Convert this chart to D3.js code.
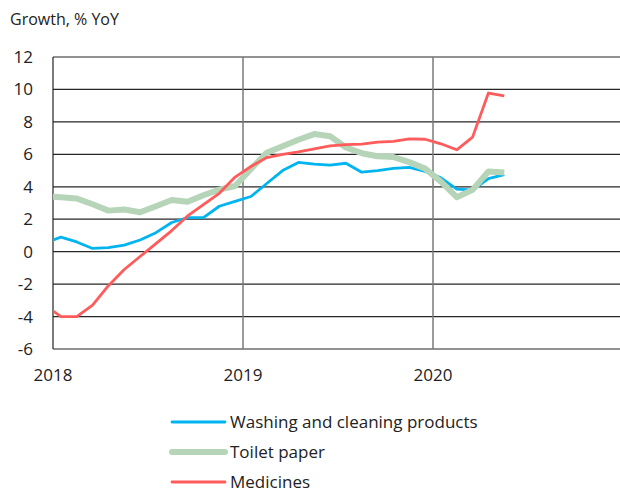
<!DOCTYPE html>
<html>
<head>
<meta charset="utf-8">
<script src="https://cdn.jsdelivr.net/npm/d3@7"></script>
<style>
  body { margin: 0; background: #fff; }
  text { font-family: "Open Sans", sans-serif; fill: #222; }
</style>
</head>
<body>
<div id="chart"></div>
<script>
// monthly data, Dec 2017 - May 2020
var months = ["2017-12",
  "2018-01","2018-02","2018-03","2018-04","2018-05","2018-06","2018-07","2018-08","2018-09","2018-10","2018-11","2018-12",
  "2019-01","2019-02","2019-03","2019-04","2019-05","2019-06","2019-07","2019-08","2019-09","2019-10","2019-11","2019-12",
  "2020-01","2020-02","2020-03","2020-04","2020-05"];

var washing = [0.55,
  0.9, 0.6, 0.2, 0.25, 0.4, 0.72, 1.17, 1.8, 2.1, 2.1, 2.8, 3.1,
  3.4, 4.2, 5.0, 5.5, 5.4, 5.33, 5.45, 4.9, 5.0, 5.13, 5.2, 4.95,
  4.55, 3.85, 3.8, 4.5, 4.75];

var toilet = [3.42,
  3.36, 3.28, 2.92, 2.53, 2.6, 2.43, 2.8, 3.19, 3.08, 3.48, 3.82, 4.05,
  5.1, 6.1, 6.5, 6.9, 7.25, 7.12, 6.42, 6.07, 5.88, 5.83, 5.52, 5.12,
  4.32, 3.36, 3.81, 4.94, 4.88];

var medicines = [-3.3,
  -4.0, -4.0, -3.3, -2.1, -1.1, -0.3, 0.5, 1.3, 2.2, 2.9, 3.6, 4.6,
  5.25, 5.8, 6.0, 6.15, 6.33, 6.52, 6.6, 6.63, 6.75, 6.8, 6.95, 6.93,
  6.65, 6.28, 7.06, 9.78, 9.61];

var yTicks = [-6, -4, -2, 0, 2, 4, 6, 8, 10, 12];
var yearTicks = [2018, 2019, 2020];

var series = [
  {name: "Washing and cleaning products", values: washing, color: "#00b4ef", width: 2.8},
  {name: "Toilet paper", values: toilet, color: "#b6d4b7", width: 6},
  {name: "Medicines", values: medicines, color: "#ff5b5b", width: 2.8}
];

var svgWidth = 620;
var svgHeight = 492;
var margin = {top: 57, right: 0, bottom: 143, left: 53};
var width = svgWidth - margin.left - margin.right;
var height = svgHeight - margin.top - margin.bottom;

var svg = d3.select("#chart")
  .append("svg")
  .attr("width", svgWidth)
  .attr("height", svgHeight);

// month index: 0 = Jan 2018
function monthIndex(s) {
  var p = s.split("-");
  return (+p[0] - 2018) * 12 + (+p[1] - 1);
}

var x = d3.scaleLinear()
  .domain([0, 36])
  .range([0, 570]);

var y = d3.scaleLinear()
  .domain([-6, 12])
  .range([height, 0]);

var g = svg.append("g")
  .attr("transform", `translate(${margin.left}, ${margin.top})`);

svg.append("text")
  .attr("x", 10)
  .attr("y", 25)
  .style("font-size", "16px")
  .text("Growth, % YoY");

// horizontal gridlines
g.selectAll(".hgrid")
  .data(yTicks)
  .enter()
  .append("line")
  .attr("x1", 0)
  .attr("x2", width)
  .attr("y1", d => y(d))
  .attr("y2", d => y(d))
  .attr("stroke", "#262626")
  .attr("stroke-width", 1.2);

// year lines
g.selectAll(".vgrid")
  .data(yearTicks.slice(1))
  .enter()
  .append("line")
  .attr("x1", d => x((d - 2018) * 12))
  .attr("x2", d => x((d - 2018) * 12))
  .attr("y1", 0)
  .attr("y2", height)
  .attr("stroke", "#7a7a7a")
  .attr("stroke-width", 1.5);

g.append("line")
  .attr("x1", 0).attr("x2", 0)
  .attr("y1", 0).attr("y2", height)
  .attr("stroke", "#222")
  .attr("stroke-width", 1.2);

// y labels
g.selectAll(".ylab")
  .data(yTicks)
  .enter()
  .append("text")
  .attr("x", -20)
  .attr("y", d => y(d))
  .attr("dy", "0.35em")
  .attr("text-anchor", "end")
  .style("font-size", "17px")
  .text(d => d);

// x labels
g.selectAll(".xlab")
  .data(yearTicks)
  .enter()
  .append("text")
  .attr("x", d => x((d - 2018) * 12))
  .attr("y", height + 26)
  .attr("dy", "0.35em")
  .attr("text-anchor", "middle")
  .style("font-size", "17px")
  .text(d => d);

g.append("clipPath")
  .attr("id", "clip")
  .append("rect")
  .attr("width", width)
  .attr("height", height);

var line = d3.line()
  .x((d, i) => x(monthIndex(months[i]) + 0.5))
  .y(d => y(d));

g.append("g")
  .attr("clip-path", "url(#clip)")
  .selectAll("path")
  .data(series)
  .enter()
  .append("path")
  .attr("d", d => line(d.values))
  .attr("fill", "none")
  .attr("stroke", d => d.color)
  .attr("stroke-width", d => d.width)
  .attr("stroke-linejoin", "round");

// legend
var legend = svg.append("g")
  .attr("transform", "translate(172, 422)");

var item = legend.selectAll("g")
  .data(series)
  .enter()
  .append("g")
  .attr("transform", (d, i) => `translate(0, ${i * 30})`);

item.append("line")
  .attr("x1", 0).attr("x2", 53)
  .attr("stroke", d => d.color)
  .attr("stroke-width", d => d.width)
  .attr("stroke-linecap", "round");

item.append("text")
  .attr("x", 58)
  .attr("dy", "0.35em")
  .style("font-size", "17px")
  .text(d => d.name);
</script>
</body>
</html>
